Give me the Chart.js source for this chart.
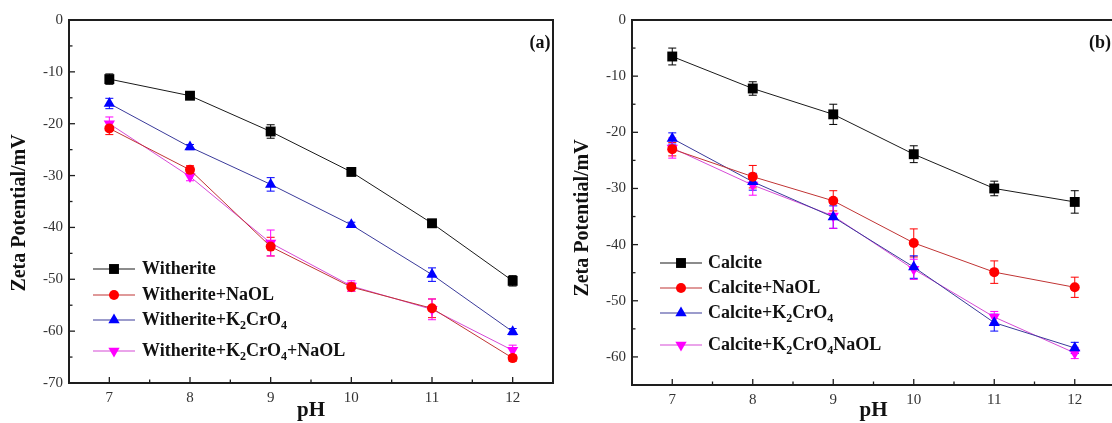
<!DOCTYPE html>
<html>
<head>
<meta charset="utf-8">
<title>Zeta potential x pH</title>
<script src="https://cdn.jsdelivr.net/npm/chart.js@4.4.0/dist/chart.umd.min.js"></script>
<style>
    html, body { margin: 0; padding: 0; background: #fff; overflow: hidden; }
    #wrap { position: relative; width: 1112px; height: 423px; overflow: hidden; }
    canvas { position: absolute; top: 0; }
    #chartA { left: 0; }
    #chartB { left: 560px; }
</style>
</head>
<body>
<div id="wrap">
    <canvas id="chartA" width="560" height="423"></canvas>
    <canvas id="chartB" width="562" height="423"></canvas>
</div>
<script>
// pH medido
const phValues = [7, 8, 9, 10, 11, 12];
const xTicks = [7, 8, 9, 10, 11, 12];
const yTicksA = [0, -10, -20, -30, -40, -50, -60, -70];
const yTicksB = [0, -10, -20, -30, -40, -50, -60];

// (a) witherita
const witherite = [-11.4, -14.6, -21.5, -29.3, -39.2, -50.3];
const witheriteErr = [1.0, 0.5, 1.3, 0.5, 0.6, 1.0];
const witheriteNaol = [-20.9, -28.9, -43.7, -51.5, -55.6, -65.2];
const witheriteNaolErr = [1.2, 0.8, 1.8, 0.8, 1.8, 0.6];
const witheriteCr = [-16.1, -24.5, -31.7, -39.5, -49.1, -60.1];
const witheriteCrErr = [1.0, 0.5, 1.3, 0.5, 1.3, 0.6];
const witheriteCrNaol = [-20.0, -30.2, -43.0, -51.3, -55.8, -63.7];
const witheriteCrNaolErr = [1.3, 0.8, 2.5, 1.0, 2.0, 1.0];

// (b) calcita
const calcite = [-6.5, -12.2, -16.8, -23.9, -30.0, -32.4];
const calciteErr = [1.5, 1.2, 1.8, 1.5, 1.3, 2.0];
const calciteNaol = [-23.0, -27.9, -32.2, -39.7, -44.9, -47.6];
const calciteNaolErr = [1.2, 2.0, 1.8, 2.5, 2.0, 1.8];
const calciteCr = [-21.1, -28.8, -35.1, -44.0, -53.9, -58.4];
const calciteCrErr = [1.0, 1.5, 2.0, 2.0, 1.5, 1.0];
const calciteCrNaol = [-22.8, -29.4, -34.9, -44.4, -52.9, -59.3];
const calciteCrNaolErr = [1.8, 1.8, 2.2, 1.8, 1.0, 1.0];

const nomesA = ['Witherite', 'Witherite+NaOL', 'Witherite+K_2CrO_4', 'Witherite+K_2CrO_4+NaOL'];
const nomesB = ['Calcite', 'Calcite+NaOL', 'Calcite+K_2CrO_4', 'Calcite+K_2CrO_4NaOL'];

const fonteSerif = '"Liberation Serif", "Times New Roman", serif';

// estilo de cada série: preto/quadrado, vermelho/círculo, azul/triângulo, magenta/triângulo invertido
const estilos = [
    { linha: '#1a1a1a', marcador: '#000000', ponto: 'rect', raio: 7, rotacao: 0 },
    { linha: '#c03434', marcador: '#ff0000', ponto: 'circle', raio: 5, rotacao: 0 },
    { linha: '#3a3a9a', marcador: '#0000ff', ponto: 'triangle', raio: 6.5, rotacao: 0 },
    { linha: '#d64ad6', marcador: '#ff00ff', ponto: 'triangle', raio: 6.5, rotacao: 180 }
];

function montarDatasets(nomes, valores, erros) {
    return valores.map((serie, k) => ({
        label: nomes[k],
        data: phValues.map((x, i) => ({ x: x, y: serie[i] })),
        erros: erros[k],
        borderColor: estilos[k].linha,
        backgroundColor: estilos[k].marcador,
        pointBackgroundColor: estilos[k].marcador,
        pointBorderColor: estilos[k].marcador,
        pointBorderWidth: 0,
        pointStyle: estilos[k].ponto,
        pointRotation: estilos[k].rotacao,
        pointRadius: estilos[k].raio,
        pointHoverRadius: estilos[k].raio,
        borderWidth: 1,
        tension: 0
    }));
}

// texto com subscritos marcados como "_2"
function desenharRotulo(ctx, texto, x, y) {
    const partes = texto.split(/(_\d)/).filter(p => p.length);
    let cx = x;
    partes.forEach(p => {
        if (p[0] === '_') {
            ctx.font = 'bold 12px ' + fonteSerif;
            ctx.fillText(p.slice(1), cx, y + 6);
            cx += ctx.measureText(p.slice(1)).width;
        } else {
            ctx.font = 'bold 18px ' + fonteSerif;
            ctx.fillText(p, cx, y);
            cx += ctx.measureText(p).width;
        }
    });
}

function linha(ctx, x1, y1, x2, y2) {
    ctx.beginPath();
    ctx.moveTo(x1, y1);
    ctx.lineTo(x2, y2);
    ctx.stroke();
}

// moldura, ticks internos, barras de erro, legenda, título do eixo y e letra do painel
const quadroPlugin = {
    id: 'quadro',
    beforeDatasetsDraw(chart) {
        const ctx = chart.ctx;
        const yScale = chart.scales.y;
        ctx.save();
        ctx.lineWidth = 1;
        chart.data.datasets.forEach((ds, k) => {
            const meta = chart.getDatasetMeta(k);
            ctx.strokeStyle = ds.pointBackgroundColor;
            meta.data.forEach((pt, i) => {
                const v = ds.data[i].y;
                const e = ds.erros[i];
                const yTop = yScale.getPixelForValue(v + e);
                const yBot = yScale.getPixelForValue(v - e);
                linha(ctx, pt.x, yTop, pt.x, yBot);
                linha(ctx, pt.x - 4, yTop, pt.x + 4, yTop);
                linha(ctx, pt.x - 4, yBot, pt.x + 4, yBot);
            });
        });
        ctx.restore();
    },
    afterDraw(chart, args, opts) {
        const ctx = chart.ctx;
        const xs = chart.scales.x;
        const ys = chart.scales.y;
        const L = xs.getPixelForValue(xs.min);
        const R = xs.getPixelForValue(xs.max);
        const T = ys.getPixelForValue(ys.max);
        const B = ys.getPixelForValue(ys.min);
        ctx.save();
        ctx.strokeStyle = '#1e1e1e';
        ctx.lineWidth = 2;
        ctx.strokeRect(L, T, R - L, B - T);

        ctx.lineWidth = 1.3;
        xTicks.forEach(v => {
            const px = xs.getPixelForValue(v);
            linha(ctx, px, B, px, B - 6);
            if (v + 0.5 < xs.max) {
                const pm = xs.getPixelForValue(v + 0.5);
                linha(ctx, pm, B, pm, B - 3.5);
            }
        });
        opts.yTicks.forEach(v => {
            const py = ys.getPixelForValue(v);
            linha(ctx, L, py, L + 6, py);
            if (v - 5 > ys.min) {
                const pm = ys.getPixelForValue(v - 5);
                linha(ctx, L, pm, L + 3.5, pm);
            }
        });

        // legenda
        const leg = opts.legenda;
        chart.data.datasets.forEach((ds, k) => {
            const y = leg.linhas[k];
            ctx.strokeStyle = ds.borderColor;
            ctx.lineWidth = 1.2;
            linha(ctx, leg.x0, y, leg.x1, y);
            ctx.fillStyle = ds.pointBackgroundColor;
            Chart.helpers.drawPoint(ctx, {
                pointStyle: ds.pointStyle,
                rotation: ds.pointRotation,
                radius: ds.pointRadius,
                borderWidth: 0
            }, (leg.x0 + leg.x1) / 2, y);
            ctx.fillStyle = '#111';
            ctx.textBaseline = 'middle';
            ctx.textAlign = 'left';
            desenharRotulo(ctx, ds.label, leg.xTexto, y);
        });

        ctx.fillStyle = '#111';
        ctx.font = 'bold 18px ' + fonteSerif;
        ctx.textAlign = 'center';
        ctx.textBaseline = 'middle';
        ctx.fillText(opts.letra, opts.letraX, 43);

        // título do eixo y
        ctx.font = 'bold 20px ' + fonteSerif;
        ctx.translate(opts.tituloX, opts.tituloY);
        ctx.rotate(-Math.PI / 2);
        ctx.fillText('Zeta Potential/mV', 0, 0);
        ctx.restore();
    }
};

function criarGrafico(id, datasets, yTicks, yMin, medidas, quadro) {
    const ctx = document.getElementById(id);
    return new Chart(ctx, {
        type: 'line',
        data: { datasets: datasets },
        plugins: [quadroPlugin],
        options: {
            responsive: false,
            animation: false,
            layout: { padding: { left: 0, top: 20, right: 1, bottom: 0 } },
            plugins: {
                legend: { display: false },
                tooltip: { enabled: false },
                quadro: quadro
            },
            scales: {
                x: {
                    type: 'linear',
                    min: 6.5,
                    max: 12.5,
                    afterBuildTicks: s => { s.ticks = xTicks.map(v => ({ value: v })); },
                    afterFit: s => { s.height = medidas.altX; },
                    grid: { display: false, drawTicks: false },
                    border: { display: false },
                    ticks: {
                        padding: 6,
                        color: '#333',
                        font: { family: fonteSerif, size: 15 }
                    },
                    title: {
                        display: true,
                        text: 'pH',
                        color: '#111',
                        padding: { top: 0, bottom: 0 },
                        font: { family: fonteSerif, size: 21, weight: 'bold' }
                    }
                },
                y: {
                    min: yMin,
                    max: 0,
                    afterBuildTicks: s => { s.ticks = yTicks.map(v => ({ value: v })); },
                    afterFit: s => { s.width = medidas.largY; },
                    grid: { display: false, drawTicks: false },
                    border: { display: false },
                    ticks: {
                        padding: 6,
                        color: '#333',
                        font: { family: fonteSerif, size: 15 }
                    }
                }
            }
        }
    });
}

criarGrafico('chartA',
    montarDatasets(nomesA,
        [witherite, witheriteNaol, witheriteCr, witheriteCrNaol],
        [witheriteErr, witheriteNaolErr, witheriteCrErr, witheriteCrNaolErr]),
    yTicksA, -70,
    { altX: 40, largY: 69 },
    { yTicks: yTicksA, letra: '(a)', letraX: 540, tituloX: 20, tituloY: 213,
      legenda: { x0: 93, x1: 135, xTexto: 142, linhas: [269, 295, 320, 351] } });

criarGrafico('chartB',
    montarDatasets(nomesB,
        [calcite, calciteNaol, calciteCr, calciteCrNaol],
        [calciteErr, calciteNaolErr, calciteCrErr, calciteCrNaolErr]),
    yTicksB, -65,
    { altX: 38, largY: 72 },
    { yTicks: yTicksB, letra: '(b)', letraX: 540, tituloX: 23, tituloY: 218,
      legenda: { x0: 100, x1: 142, xTexto: 148, linhas: [263, 288, 313, 345] } });
</script>
</body>
</html>
